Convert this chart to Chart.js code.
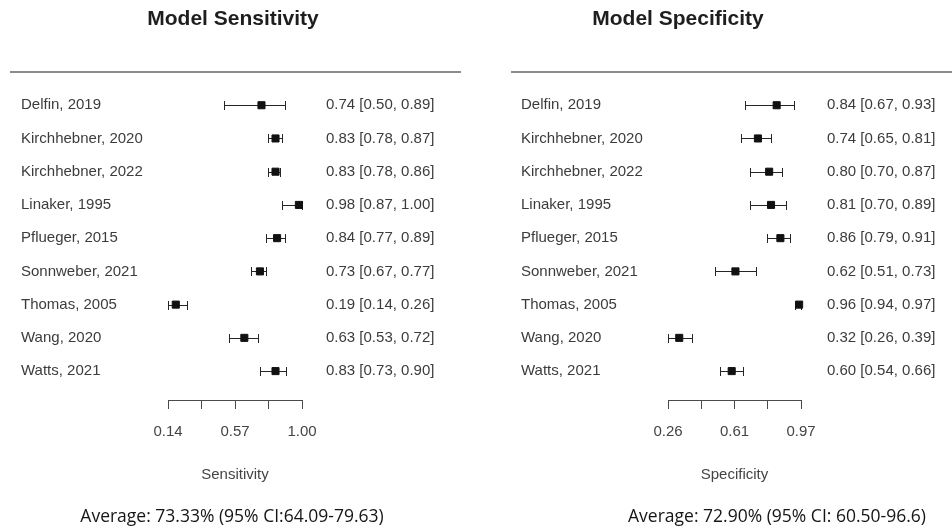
<!DOCTYPE html>
<html><head><meta charset="utf-8">
<script src="https://cdn.jsdelivr.net/npm/chart.js@4/dist/chart.umd.min.js"></script>
<style>
html,body{margin:0;padding:0;background:#fff;}
#wrap{position:relative;width:952px;height:528px;overflow:hidden;}
.c{position:absolute;top:0;width:476px;height:528px;}
</style></head><body>
<div id="wrap">
<div class="c" style="left:0"><canvas id="sens" width="476" height="528"></canvas></div>
<div class="c" style="left:476px"><canvas id="spec" width="476" height="528"></canvas></div>
</div>
<script>
const studies = ['Delfin, 2019','Kirchhebner, 2020','Kirchhebner, 2022','Linaker, 1995','Pflueger, 2015','Sonnweber, 2021','Thomas, 2005','Wang, 2020','Watts, 2021'];
const sensEst  = [0.74,0.83,0.83,0.98,0.84,0.73,0.19,0.63,0.83];
const sensLow  = [0.50,0.78,0.78,0.87,0.77,0.67,0.14,0.53,0.73];
const sensHigh = [0.89,0.87,0.86,1.00,0.89,0.77,0.26,0.72,0.90];
const specEst  = [0.84,0.74,0.80,0.81,0.86,0.62,0.96,0.32,0.60];
const specLow  = [0.67,0.65,0.70,0.70,0.79,0.51,0.94,0.26,0.54];
const specHigh = [0.93,0.81,0.87,0.89,0.91,0.73,0.97,0.39,0.66];
const sensTicks = [0.14,0.355,0.57,0.785,1.00];
const sensTickLabels = ['0.14','','0.57','','1.00'];
const specTicks = [0.26,0.4375,0.615,0.7925,0.97];
const specTickLabels = ['0.26','','0.61','','0.97'];
const sensTitle = 'Model Sensitivity';
const specTitle = 'Model Specificity';
const sensAxisTitle = 'Sensitivity';
const specAxisTitle = 'Specificity';
const sensAverage = 'Average: 73.33% (95% CI:64.09-79.63)';
const specAverage = 'Average: 72.90% (95% CI: 60.50-96.6)';

const FONT = '"Liberation Sans", Arial, sans-serif';

const forestPlugin = {
  id: 'forest',
  beforeDatasetsDraw(chart, args, o) {
    const {ctx, chartArea, scales: {x, y}} = chart;
    ctx.save();
    // top rule
    ctx.strokeStyle = '#8c8c8c'; ctx.lineWidth = 2;
    ctx.beginPath(); ctx.moveTo(o.ruleFrom, chartArea.top); ctx.lineTo(o.ruleTo, chartArea.top); ctx.stroke();
    // whiskers
    ctx.strokeStyle = '#262626'; ctx.lineWidth = 1;
    o.low.forEach((lo, i) => {
      const yp = Math.round(y.getPixelForValue(i)) + 0.5;
      const x0 = Math.round(x.getPixelForValue(lo)) + 0.5;
      const x1 = Math.round(x.getPixelForValue(o.high[i])) + 0.5;
      ctx.beginPath();
      ctx.moveTo(x0, yp); ctx.lineTo(x1, yp);
      ctx.moveTo(x0, yp - 4.5); ctx.lineTo(x0, yp + 4.5);
      ctx.moveTo(x1, yp - 4.5); ctx.lineTo(x1, yp + 4.5);
      ctx.stroke();
    });
    // row labels and values
    ctx.font = '15px ' + FONT;
    ctx.fillStyle = '#3c3c3c'; ctx.textBaseline = 'middle'; ctx.textAlign = 'left';
    o.labels.forEach((s, i) => {
      const yp = y.getPixelForValue(i);
      ctx.fillText(s, o.labelX, yp);
      const v = o.est[i].toFixed(2) + ' [' + o.low[i].toFixed(2) + ', ' + o.high[i].toFixed(2) + ']';
      ctx.fillText(v, o.valueX, yp);
    });
    // title
    ctx.font = 'bold 21px ' + FONT;
    ctx.fillStyle = '#1e1e1e'; ctx.textAlign = 'center';
    ctx.fillText(o.title, o.titleX, 19);
    // average
    ctx.font = '17.5px "Open Sans", "Noto Sans", sans-serif';
    ctx.fillStyle = '#151515';
    ctx.fillText(o.average, o.averageX, 517);
    ctx.restore();
  }
};

function makeChart(id, c) {
  return new Chart(document.getElementById(id), {
    type: 'scatter',
    data: { datasets: [{
      data: c.est.map((v, i) => ({x: v, y: i})),
      pointStyle: 'rect', pointRadius: 5, pointHoverRadius: 5,
      backgroundColor: '#111', borderColor: '#111', borderWidth: 1, clip: false
    }]},
    options: {
      responsive: false, animation: false, devicePixelRatio: 1,
      layout: { padding: { left: c.padL, right: c.padR, top: 72, bottom: 38 } },
      plugins: {
        legend: { display: false }, tooltip: { enabled: false },
        forest: {
          labels: studies, est: c.est, low: c.low, high: c.high,
          labelX: c.labelX, valueX: c.valueX, ruleFrom: c.ruleFrom, ruleTo: c.ruleTo,
          title: c.title, titleX: c.titleX, average: c.average, averageX: c.averageX
        }
      },
      scales: {
        y: { type: 'linear', reverse: true, min: -1, max: 8.87, display: false },
        x: {
          type: 'linear', position: 'bottom', min: c.ticks[0], max: c.ticks[c.ticks.length - 1],
          afterBuildTicks: s => { s.ticks = c.ticks.map(v => ({value: v})); },
          afterFit: s => { s.height = 90; },
          ticks: { callback: (v, i) => c.tickLabels[i], color: '#444', font: {size: 15, family: FONT},
                   padding: 14, maxRotation: 0, autoSkip: false },
          grid: { drawOnChartArea: false, drawTicks: true, tickLength: 9, color: '#4a4a4a', tickWidth: 1 },
          border: { display: true, color: '#4a4a4a', width: 1 },
          title: { display: true, text: c.axisTitle, color: '#444', font: {size: 15, family: FONT},
                   padding: { top: 0, bottom: 6 } }
        }
      }
    },
    plugins: [forestPlugin]
  });
}

makeChart('sens', {
  est: sensEst, low: sensLow, high: sensHigh, ticks: sensTicks, tickLabels: sensTickLabels,
  padL: 168, padR: 174, labelX: 21, valueX: 326, ruleFrom: 10, ruleTo: 461,
  title: sensTitle, titleX: 233, axisTitle: sensAxisTitle, average: sensAverage, averageX: 232
});
makeChart('spec', {
  est: specEst, low: specLow, high: specHigh, ticks: specTicks, tickLabels: specTickLabels,
  padL: 192, padR: 151, labelX: 45, valueX: 351, ruleFrom: 35, ruleTo: 476,
  title: specTitle, titleX: 202, axisTitle: specAxisTitle, average: specAverage, averageX: 301
});
</script>
</body></html>
